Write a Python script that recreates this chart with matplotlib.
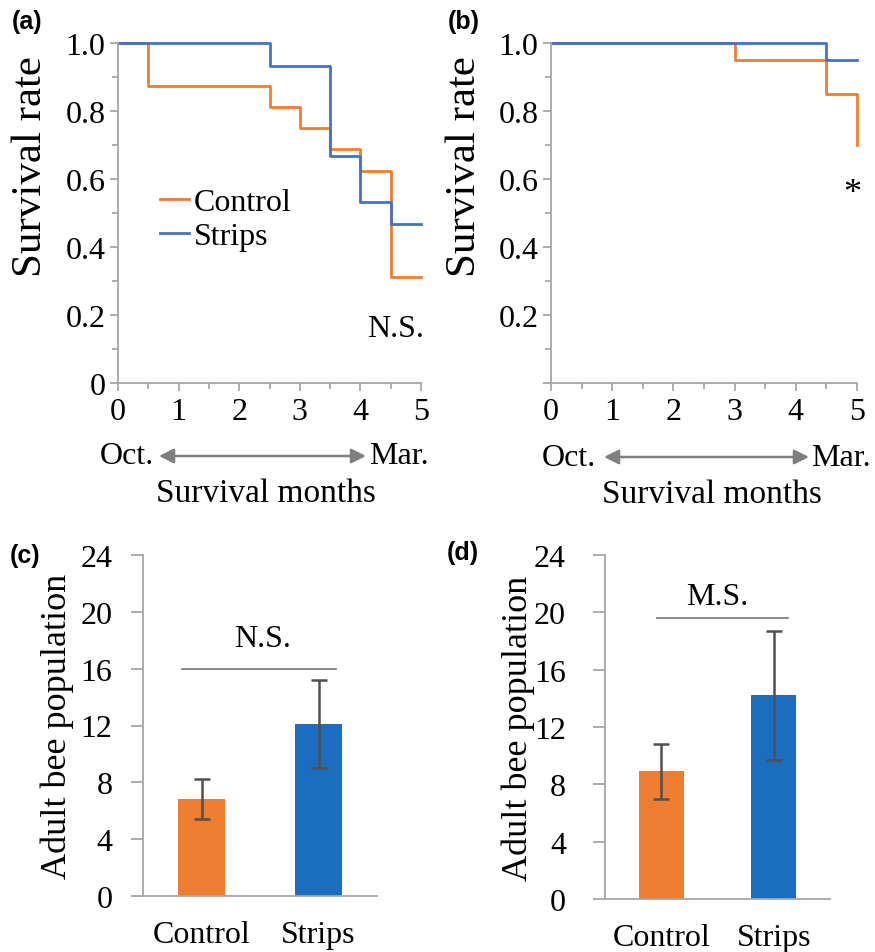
import matplotlib
matplotlib.use("Agg")
import matplotlib.pyplot as plt
from matplotlib.patches import FancyArrowPatch
from matplotlib.ticker import MultipleLocator, FixedLocator

plt.rcParams['font.family'] = ['Liberation Serif', 'DejaVu Serif']

# ---- data ----
a_ctrl_x = [0, 0.5, 2.5, 3, 3.5, 4, 4.5, 5]
a_ctrl_y = [1.0, 0.875, 0.8125, 0.75, 0.6875, 0.625, 0.3125, 0.3125]
a_strp_x = [0, 2.5, 3.5, 4, 4.5, 5]
a_strp_y = [1.0, 0.933, 0.667, 0.533, 0.467, 0.467]
b_ctrl_x = [0, 3, 4.5, 5, 5]
b_ctrl_y = [1.0, 0.95, 0.85, 0.70, 0.70]
b_strp_x = [0, 4.5, 5]
b_strp_y = [1.0, 0.95, 0.95]
months = [0, 1, 2, 3, 4, 5]
surv_ticks = [0, 0.2, 0.4, 0.6, 0.8, 1.0]

groups = ["Control", "Strips"]
c_means = [6.8, 12.1]
c_low = [5.4, 9.0]
c_high = [8.2, 15.2]
d_means = [8.9, 14.2]
d_low = [7.0, 9.7]
d_high = [10.8, 18.7]

ORANGE_L = "#ED7D31"
BLUE_L = "#4472C4"
ORANGE_B = "#ED7D31"
BLUE_B = "#1A6DBF"
SPINE = "#A6A6A6"
FS = 23

W, H = 875, 953
fig = plt.figure(figsize=(W / 100, H / 100), dpi=100)

def fx(px):
    return px / W

def fy(py):
    return 1 - py / H

def style_axes(ax, ypad):
    for s in ['top', 'right']:
        ax.spines[s].set_visible(False)
    for s in ['left', 'bottom']:
        ax.spines[s].set_color(SPINE)
        ax.spines[s].set_linewidth(1.3)
    ax.tick_params(which='both', color=SPINE, width=1.3, labelsize=FS, direction='out', pad=4)
    ax.tick_params(which='major', length=6)
    ax.tick_params(which='minor', length=4)
    ax.tick_params(axis='y', pad=ypad)

def survival(ax, cx, cy, sx, sy, ylabels, lab_x):
    ax.step(cx, cy, where='post', color=ORANGE_L, lw=2, clip_on=False, label="Control")
    ax.step(sx, sy, where='post', color=BLUE_L, lw=2, clip_on=False, label="Strips")
    ax.set_xlim(0, 5)
    ax.set_ylim(0, 1.0)
    style_axes(ax, 3)
    ax.xaxis.set_major_locator(FixedLocator(months))
    ax.xaxis.set_minor_locator(MultipleLocator(0.5))
    ax.yaxis.set_major_locator(FixedLocator(surv_ticks))
    ax.yaxis.set_minor_locator(MultipleLocator(0.1))
    ax.set_yticklabels(ylabels)
    ax.set_xticklabels([str(m) for m in months])
    ax.set_ylabel("Survival rate", fontsize=31, va='center')
    ax.yaxis.set_label_coords(lab_x, 0.64)

axa = fig.add_axes([fx(118), fy(384), fx(303), 340 / H])
survival(axa, a_ctrl_x, a_ctrl_y, a_strp_x, a_strp_y,
         ["0", "0.2", "0.4", "0.6", "0.8", "1.0"], -0.287)
axa.legend(loc='upper left', bbox_to_anchor=(0.139, 0.575), frameon=False, fontsize=FS,
           handlelength=0.9, handletextpad=0.15, labelspacing=0.15, borderaxespad=0,
           borderpad=0)
axa.text(5.05, 0.16, "N.S.", fontsize=FS, ha='right', va='center')

axb = fig.add_axes([fx(551), fy(384), fx(306), 340 / H])
survival(axb, b_ctrl_x, b_ctrl_y, b_strp_x, b_strp_y,
         ["", "0.2", "0.4", "0.6", "0.8", "1.0"], -0.281)
axb.text(4.93, 0.556, "*", fontsize=FS + 3, ha='center', va='center')

def month_arrow(xo, xm, xa0, xa1, ycen, xs, ys):
    fig.text(fx(xo), fy(ycen), "Oct.", fontsize=FS, ha='center', va='center')
    fig.text(fx(xm), fy(ycen), "Mar.", fontsize=FS, ha='center', va='center')
    fig.add_artist(FancyArrowPatch(
        (fx(xa0), fy(ycen)), (fx(xa1), fy(ycen)), transform=fig.transFigure,
        arrowstyle='<|-|>', mutation_scale=22, color="#7F7F7F", lw=1.8,
        shrinkA=0, shrinkB=0))
    fig.text(fx(xs), fy(ys), "Survival months", fontsize=FS + 1, ha='center', va='center')

month_arrow(127, 399, 159, 366, 457, 266, 494)
month_arrow(569, 841, 604, 809, 458, 712, 495)

def bars(ax, means, low, high, label, lx0, lx1, ly, tx, ty, lab_x, ypad):
    xs = list(range(len(groups)))
    ax.bar(xs, means, width=0.4, color=[ORANGE_B, BLUE_B], zorder=2)
    yerr = [[m - l for m, l in zip(means, low)], [h - m for m, h in zip(means, high)]]
    ax.errorbar(xs, means, yerr=yerr, fmt='none', ecolor="#505050", elinewidth=1.8,
                capsize=6, capthick=1.8, zorder=3)
    ax.set_xlim(-0.5, 1.5)
    ax.set_ylim(0, 24)
    style_axes(ax, ypad)
    ax.tick_params(axis='y', length=9)
    ax.yaxis.set_major_locator(MultipleLocator(4))
    ax.set_xticks(xs)
    ax.set_xticklabels(groups, fontsize=FS)
    ax.tick_params(axis='x', length=0, pad=17)
    ax.set_ylabel("Adult bee population", fontsize=26, va='center')
    ax.yaxis.set_label_coords(lab_x, 0.5)
    ax.plot([lx0, lx1], [ly, ly], color="#808080", lw=1.3)
    ax.text(tx, ty, label, fontsize=FS, ha='center', va='center')

axc = fig.add_axes([fx(143), fy(897), fx(234), 341 / H])
bars(axc, c_means, c_low, c_high, "N.S.", -0.17, 1.15, 16, 0.52, 18.1, -0.368, 13)

axd = fig.add_axes([fx(605), fy(900), fx(225), 344 / H])
bars(axd, d_means, d_low, d_high, "M.S.", -0.04, 1.13, 19.6, 0.5, 21.1, -0.387, 19)

for lab, x, y in [("(a)", 12, 22), ("(b)", 448, 22), ("(c)", 10, 556), ("(d)", 447, 553)]:
    fig.text(fx(x), fy(y), lab, fontsize=18, fontweight='bold',
             family=['Liberation Sans', 'DejaVu Sans'], ha='left', va='center')

fig.savefig("out.png", dpi=100)
